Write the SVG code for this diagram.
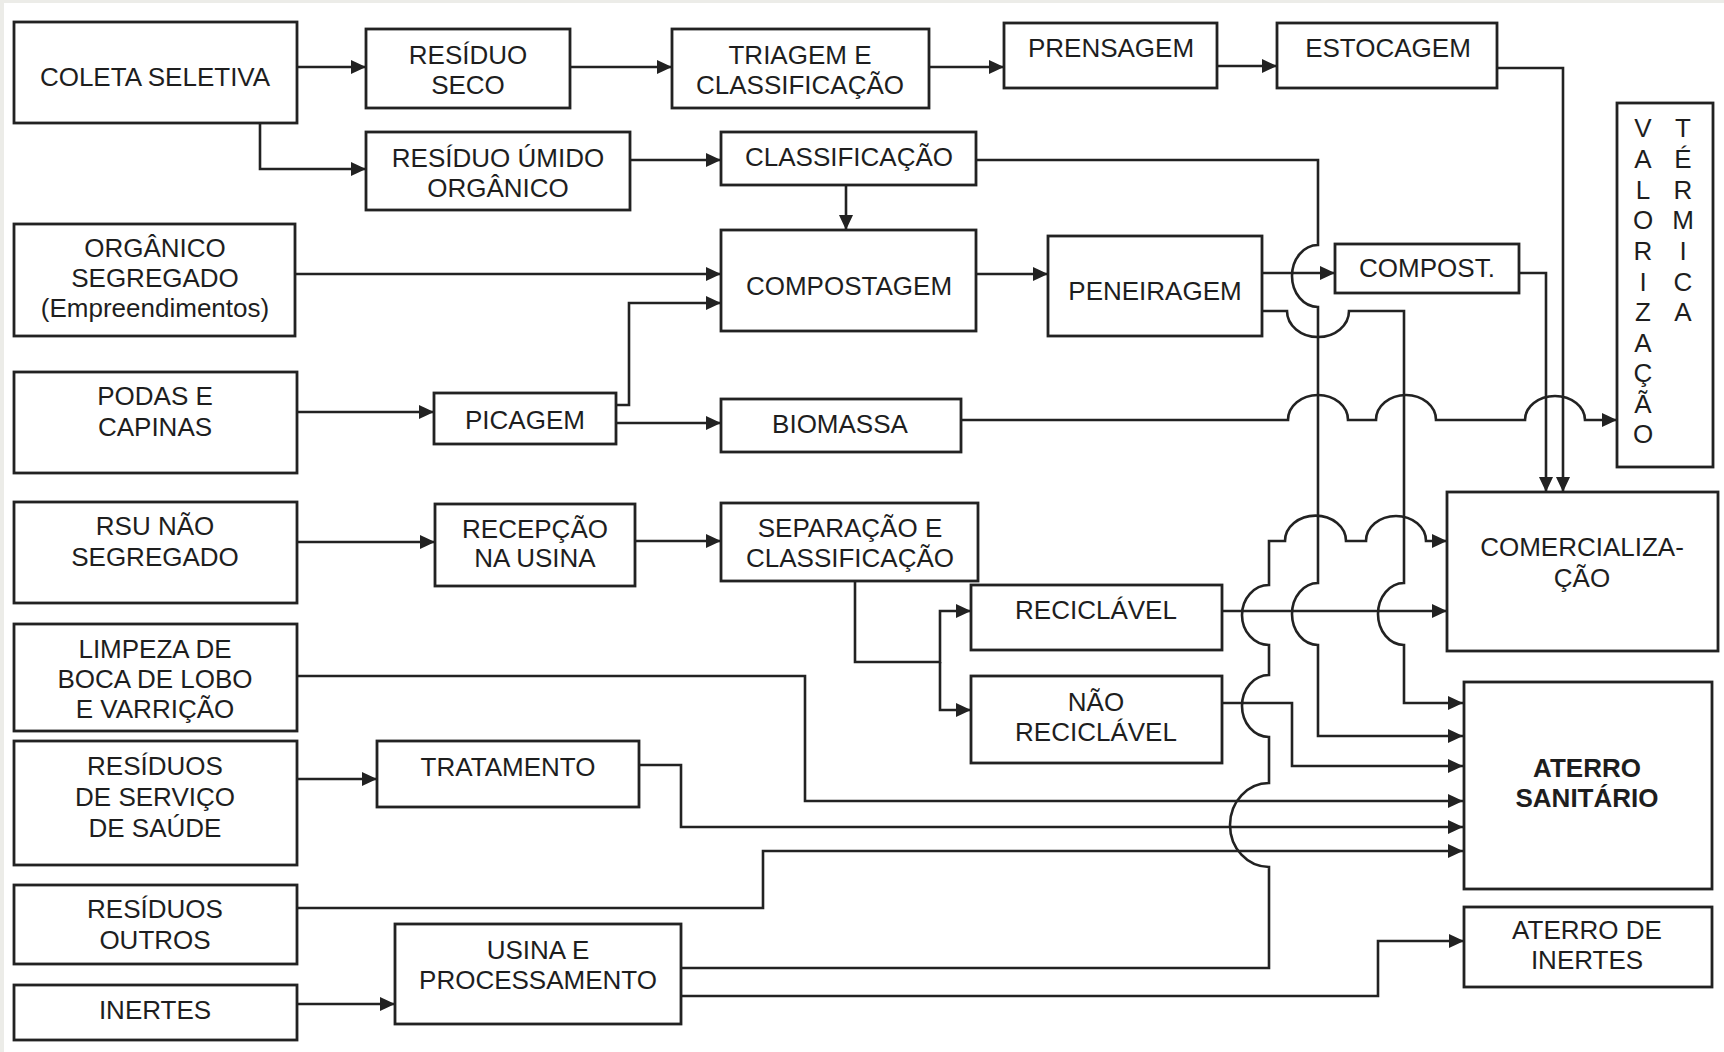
<svg xmlns="http://www.w3.org/2000/svg" width="1724" height="1052" viewBox="0 0 1724 1052">
  <style>
    .box { fill: #ffffff; stroke: #222222; stroke-width: 2.8; }
    .lbl { font-family: "Liberation Sans", Arial, sans-serif; font-size: 26px; fill: #1e1e1e; text-anchor: middle; }
    .bold { font-weight: bold; }
    .wire { fill: none; stroke: #222222; stroke-width: 2.6; stroke-linejoin: miter; }
    .arr { marker-end: url(#ah); }
  </style>
  <defs>
    <marker id="ah" markerUnits="userSpaceOnUse" markerWidth="16" markerHeight="16" viewBox="0 0 16 16" refX="15" refY="8" orient="auto">
      <path d="M0,1 L15,8 L0,15 Z" fill="#222222"/>
    </marker>
  </defs>

  <!-- page background and scanned edge -->
  <rect x="0" y="0" width="1724" height="1052" fill="#ffffff"/>
  <rect x="0" y="0" width="1724" height="3" fill="#ecece8"/>
  <rect x="0" y="0" width="4" height="1052" fill="#ecece8"/>

  <!-- connectors -->
  <g id="connectors">
    <path class="wire arr" d="M297,67 H366"/>
    <path class="wire arr" d="M260,123 V169 H366"/>
    <path class="wire arr" d="M570,67 H672"/>
    <path class="wire arr" d="M929,67 H1004"/>
    <path class="wire arr" d="M1217,66 H1277"/>
    <path class="wire arr" d="M1497,68 H1563 V492"/>
    <path class="wire arr" d="M630,160 H721"/>
    <path class="wire arr" d="M846,185 V230"/>
    <path class="wire arr" d="M976,160 H1318 V245 A26,31 0 0 0 1318,307 V583 A26,31 0 0 0 1318,645 V736 H1463"/>
    <path class="wire arr" d="M295,274 H721"/>
    <path class="wire arr" d="M976,274 H1048"/>
    <path class="wire arr" d="M1262,273 H1335"/>
    <path class="wire arr" d="M1519,273 H1546 V492"/>
    <path class="wire arr" d="M1262,311 H1287 A31,26 0 0 0 1349,311 H1404 V583 A26,31 0 0 0 1404,645 V703 H1463"/>
    <path class="wire arr" d="M297,412 H434"/>
    <path class="wire arr" d="M616,405 H629 V303 H721"/>
    <path class="wire arr" d="M616,423 H721"/>
    <path class="wire arr" d="M961,420 H1288 A30,25 0 0 1 1348,420 H1376 A30,25 0 0 1 1436,420 H1525 A30,24 0 0 1 1585,420 H1617"/>
    <path class="wire arr" d="M297,542 H435"/>
    <path class="wire arr" d="M635,541 H721"/>
    <path class="wire arr" d="M855,581 V662 H940 V611 H971"/>
    <path class="wire arr" d="M940,662 V710 H971"/>
    <path class="wire arr" d="M1222,611 H1447"/>
    <path class="wire arr" d="M1222,703 H1292 V766 H1463"/>
    <path class="wire arr" d="M297,676 H805 V801 H1463"/>
    <path class="wire arr" d="M297,779 H377"/>
    <path class="wire arr" d="M639,765 H681 V827 H1463"/>
    <path class="wire arr" d="M297,908 H763 V851 H1463"/>
    <path class="wire arr" d="M297,1004 H395"/>
    <path class="wire arr" d="M681,968 H1269 V867 A39,42 0 0 1 1269,783 V737 A27,31 0 0 1 1269,675 V645 A27,30 0 0 1 1269,585 V541 H1285 A30,25 0 0 1 1346,541 H1366 A30,25 0 0 1 1426,541 H1447"/>
    <path class="wire arr" d="M681,996 H1378 V941 H1464"/>
  </g>

  <!-- sources -->
  <g id="coleta-seletiva">
    <rect class="box" x="14" y="22" width="283" height="101"/>
    <text class="lbl" x="155" y="86">COLETA SELETIVA</text>
  </g>
  <g id="organico-segregado">
    <rect class="box" x="14" y="224" width="281" height="112"/>
    <text class="lbl" x="155" y="257">ORGÂNICO</text>
    <text class="lbl" x="155" y="287">SEGREGADO</text>
    <text class="lbl" x="155" y="317">(Empreendimentos)</text>
  </g>
  <g id="podas-capinas">
    <rect class="box" x="14" y="372" width="283" height="101"/>
    <text class="lbl" x="155" y="405">PODAS E</text>
    <text class="lbl" x="155" y="436">CAPINAS</text>
  </g>
  <g id="rsu-nao-segregado">
    <rect class="box" x="14" y="502" width="283" height="101"/>
    <text class="lbl" x="155" y="535">RSU NÃO</text>
    <text class="lbl" x="155" y="566">SEGREGADO</text>
  </g>
  <g id="limpeza">
    <rect class="box" x="14" y="624" width="283" height="107"/>
    <text class="lbl" x="155" y="658">LIMPEZA DE</text>
    <text class="lbl" x="155" y="688">BOCA DE LOBO</text>
    <text class="lbl" x="155" y="718">E VARRIÇÃO</text>
  </g>
  <g id="servico-saude">
    <rect class="box" x="14" y="741" width="283" height="124"/>
    <text class="lbl" x="155" y="775">RESÍDUOS</text>
    <text class="lbl" x="155" y="806">DE SERVIÇO</text>
    <text class="lbl" x="155" y="837">DE SAÚDE</text>
  </g>
  <g id="residuos-outros">
    <rect class="box" x="14" y="885" width="283" height="79"/>
    <text class="lbl" x="155" y="918">RESÍDUOS</text>
    <text class="lbl" x="155" y="949">OUTROS</text>
  </g>
  <g id="inertes">
    <rect class="box" x="14" y="985" width="283" height="55"/>
    <text class="lbl" x="155" y="1019">INERTES</text>
  </g>

  <!-- processing steps -->
  <g id="residuo-seco">
    <rect class="box" x="366" y="29" width="204" height="79"/>
    <text class="lbl" x="468" y="64">RESÍDUO</text>
    <text class="lbl" x="468" y="94">SECO</text>
  </g>
  <g id="triagem">
    <rect class="box" x="672" y="29" width="257" height="79"/>
    <text class="lbl" x="800" y="64">TRIAGEM E</text>
    <text class="lbl" x="800" y="94">CLASSIFICAÇÃO</text>
  </g>
  <g id="prensagem">
    <rect class="box" x="1004" y="23" width="213" height="65"/>
    <text class="lbl" x="1111" y="57">PRENSAGEM</text>
  </g>
  <g id="estocagem">
    <rect class="box" x="1277" y="23" width="220" height="65"/>
    <text class="lbl" x="1388" y="57">ESTOCAGEM</text>
  </g>
  <g id="residuo-umido">
    <rect class="box" x="366" y="132" width="264" height="78"/>
    <text class="lbl" x="498" y="167">RESÍDUO ÚMIDO</text>
    <text class="lbl" x="498" y="197">ORGÂNICO</text>
  </g>
  <g id="classificacao">
    <rect class="box" x="721" y="132" width="255" height="53"/>
    <text class="lbl" x="849" y="166">CLASSIFICAÇÃO</text>
  </g>
  <g id="compostagem">
    <rect class="box" x="721" y="230" width="255" height="101"/>
    <text class="lbl" x="849" y="295">COMPOSTAGEM</text>
  </g>
  <g id="peneiragem">
    <rect class="box" x="1048" y="236" width="214" height="100"/>
    <text class="lbl" x="1155" y="300">PENEIRAGEM</text>
  </g>
  <g id="compost">
    <rect class="box" x="1335" y="244" width="184" height="49"/>
    <text class="lbl" x="1427" y="277">COMPOST.</text>
  </g>
  <g id="picagem">
    <rect class="box" x="434" y="393" width="182" height="51"/>
    <text class="lbl" x="525" y="429">PICAGEM</text>
  </g>
  <g id="biomassa">
    <rect class="box" x="721" y="399" width="240" height="53"/>
    <text class="lbl" x="840" y="433">BIOMASSA</text>
  </g>
  <g id="recepcao">
    <rect class="box" x="435" y="504" width="200" height="82"/>
    <text class="lbl" x="535" y="538">RECEPÇÃO</text>
    <text class="lbl" x="535" y="567">NA USINA</text>
  </g>
  <g id="separacao">
    <rect class="box" x="721" y="503" width="257" height="78"/>
    <text class="lbl" x="850" y="537">SEPARAÇÃO E</text>
    <text class="lbl" x="850" y="567">CLASSIFICAÇÃO</text>
  </g>
  <g id="reciclavel">
    <rect class="box" x="971" y="585" width="251" height="65"/>
    <text class="lbl" x="1096" y="619">RECICLÁVEL</text>
  </g>
  <g id="nao-reciclavel">
    <rect class="box" x="971" y="676" width="251" height="87"/>
    <text class="lbl" x="1096" y="711">NÃO</text>
    <text class="lbl" x="1096" y="741">RECICLÁVEL</text>
  </g>
  <g id="tratamento">
    <rect class="box" x="377" y="741" width="262" height="66"/>
    <text class="lbl" x="508" y="776">TRATAMENTO</text>
  </g>
  <g id="usina">
    <rect class="box" x="395" y="924" width="286" height="100"/>
    <text class="lbl" x="538" y="959">USINA E</text>
    <text class="lbl" x="538" y="989">PROCESSAMENTO</text>
  </g>

  <!-- destinations -->
  <g id="valorizacao-termica">
    <rect class="box" x="1617" y="103" width="96" height="364"/>
    <text class="lbl" x="1643" y="137">V</text>
    <text class="lbl" x="1643" y="168">A</text>
    <text class="lbl" x="1643" y="199">L</text>
    <text class="lbl" x="1643" y="229">O</text>
    <text class="lbl" x="1643" y="260">R</text>
    <text class="lbl" x="1643" y="291">I</text>
    <text class="lbl" x="1643" y="321">Z</text>
    <text class="lbl" x="1643" y="352">A</text>
    <text class="lbl" x="1643" y="382">Ç</text>
    <text class="lbl" x="1643" y="413">Ã</text>
    <text class="lbl" x="1643" y="443">O</text>
    <text class="lbl" x="1683" y="137">T</text>
    <text class="lbl" x="1683" y="168">É</text>
    <text class="lbl" x="1683" y="199">R</text>
    <text class="lbl" x="1683" y="229">M</text>
    <text class="lbl" x="1683" y="260">I</text>
    <text class="lbl" x="1683" y="291">C</text>
    <text class="lbl" x="1683" y="321">A</text>
  </g>
  <g id="comercializacao">
    <rect class="box" x="1447" y="492" width="271" height="159"/>
    <text class="lbl" x="1582" y="556">COMERCIALIZA-</text>
    <text class="lbl" x="1582" y="587">ÇÃO</text>
  </g>
  <g id="aterro-sanitario">
    <rect class="box" x="1464" y="682" width="248" height="207"/>
    <text class="lbl bold" x="1587" y="777">ATERRO</text>
    <text class="lbl bold" x="1587" y="807">SANITÁRIO</text>
  </g>
  <g id="aterro-inertes">
    <rect class="box" x="1464" y="907" width="248" height="80"/>
    <text class="lbl" x="1587" y="939">ATERRO DE</text>
    <text class="lbl" x="1587" y="969">INERTES</text>
  </g>
</svg>
